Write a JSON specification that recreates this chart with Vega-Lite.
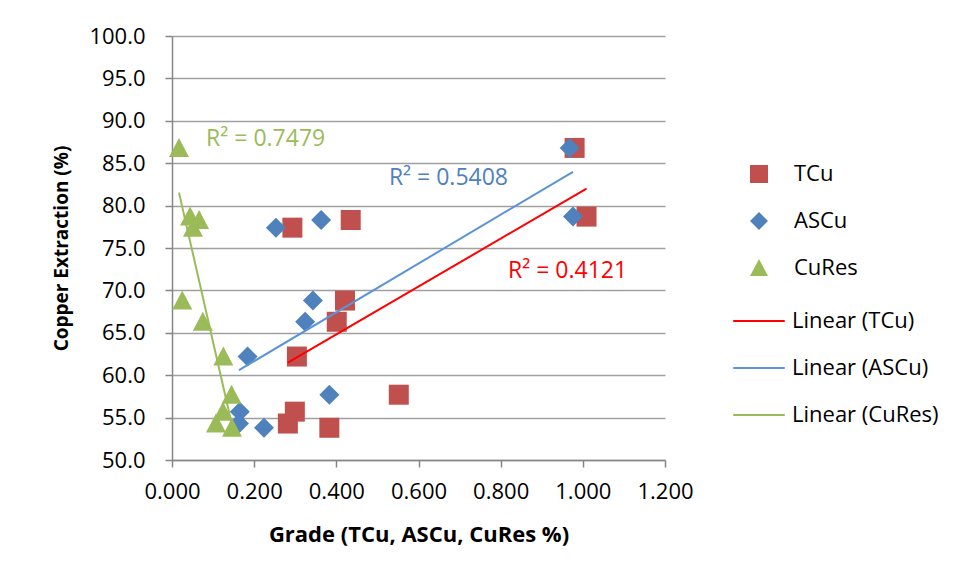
{
  "$schema": "https://vega.github.io/schema/vega-lite/v6.json",
  "width": 493,
  "height": 424,
  "autosize": {"type": "none"},
  "padding": {"left": 172, "top": 36, "right": 288, "bottom": 119},
  "background": "white",
  "config": {
    "font": "Open Sans",
    "view": {"stroke": null},
    "axis": {"labelColor": "#000000", "titleColor": "#000000", "labelFont": "Open Sans", "titleFont": "Open Sans"},
    "legend": {"labelFont": "Open Sans", "labelColor": "#000000", "padding": 0}
  },
  "datasets": {
    "points": [
      {"sample": 1, "series": "TCu", "grade": 0.980, "extraction": 86.8},
      {"sample": 2, "series": "TCu", "grade": 1.009, "extraction": 78.7},
      {"sample": 3, "series": "TCu", "grade": 0.435, "extraction": 78.3},
      {"sample": 4, "series": "TCu", "grade": 0.293, "extraction": 77.4},
      {"sample": 5, "series": "TCu", "grade": 0.421, "extraction": 68.8},
      {"sample": 6, "series": "TCu", "grade": 0.401, "extraction": 66.3},
      {"sample": 7, "series": "TCu", "grade": 0.304, "extraction": 62.2},
      {"sample": 8, "series": "TCu", "grade": 0.552, "extraction": 57.7},
      {"sample": 9, "series": "TCu", "grade": 0.299, "extraction": 55.7},
      {"sample": 10, "series": "TCu", "grade": 0.282, "extraction": 54.3},
      {"sample": 11, "series": "TCu", "grade": 0.383, "extraction": 53.8},
      {"sample": 1, "series": "ASCu", "grade": 0.968, "extraction": 86.8},
      {"sample": 2, "series": "ASCu", "grade": 0.976, "extraction": 78.7},
      {"sample": 3, "series": "ASCu", "grade": 0.363, "extraction": 78.3},
      {"sample": 4, "series": "ASCu", "grade": 0.253, "extraction": 77.4},
      {"sample": 5, "series": "ASCu", "grade": 0.343, "extraction": 68.8},
      {"sample": 6, "series": "ASCu", "grade": 0.324, "extraction": 66.3},
      {"sample": 7, "series": "ASCu", "grade": 0.184, "extraction": 62.2},
      {"sample": 8, "series": "ASCu", "grade": 0.383, "extraction": 57.7},
      {"sample": 9, "series": "ASCu", "grade": 0.165, "extraction": 55.7},
      {"sample": 10, "series": "ASCu", "grade": 0.163, "extraction": 54.3},
      {"sample": 11, "series": "ASCu", "grade": 0.224, "extraction": 53.8},
      {"sample": 1, "series": "CuRes", "grade": 0.017, "extraction": 86.8},
      {"sample": 2, "series": "CuRes", "grade": 0.044, "extraction": 78.7},
      {"sample": 3, "series": "CuRes", "grade": 0.066, "extraction": 78.3},
      {"sample": 4, "series": "CuRes", "grade": 0.051, "extraction": 77.4},
      {"sample": 5, "series": "CuRes", "grade": 0.025, "extraction": 68.8},
      {"sample": 6, "series": "CuRes", "grade": 0.075, "extraction": 66.3},
      {"sample": 7, "series": "CuRes", "grade": 0.125, "extraction": 62.2},
      {"sample": 8, "series": "CuRes", "grade": 0.145, "extraction": 57.7},
      {"sample": 9, "series": "CuRes", "grade": 0.124, "extraction": 55.7},
      {"sample": 10, "series": "CuRes", "grade": 0.107, "extraction": 54.3},
      {"sample": 11, "series": "CuRes", "grade": 0.146, "extraction": 53.8}
    ],
    "trends": [
      {"series": "TCu", "trend": "Linear (TCu)"},
      {"series": "ASCu", "trend": "Linear (ASCu)"},
      {"series": "CuRes", "trend": "Linear (CuRes)"}
    ],
    "labels": [
      {"series": "CuRes", "text": "R² = 0.7479", "grade": 0.083, "extraction": 87.8},
      {"series": "ASCu", "text": "R² = 0.5408", "grade": 0.528, "extraction": 83.25},
      {"series": "TCu", "text": "R² = 0.4121", "grade": 0.818, "extraction": 72.3}
    ]
  },
  "layer": [
    {
      "data": {"name": "points"},
      "mark": {"type": "point", "filled": true, "opacity": 1, "size": 400, "strokeWidth": 0},
      "encoding": {
        "x": {
          "field": "grade", "type": "quantitative",
          "scale": {"domain": [0, 1.2], "nice": false, "zero": false},
          "axis": {
            "title": "Grade (TCu, ASCu, CuRes %)",
            "values": [0, 0.2, 0.4, 0.6, 0.8, 1.0, 1.2],
            "format": ".3f",
            "grid": false,
            "domainColor": "#868686", "domainWidth": 1.5,
            "tickColor": "#868686", "tickWidth": 1.5, "tickSize": 7,
            "labelFontSize": 22, "labelPadding": 14, "labelFlush": false, "labelOverlap": false,
            "titleFontSize": 22, "titleFontWeight": "bold", "titlePadding": 22
          }
        },
        "y": {
          "field": "extraction", "type": "quantitative",
          "scale": {"domain": [50, 100], "nice": false, "zero": false},
          "axis": {
            "title": "Copper Extraction (%)",
            "values": [50, 55, 60, 65, 70, 75, 80, 85, 90, 95, 100],
            "format": ".1f",
            "grid": true, "gridColor": "#A0A0A0", "gridWidth": 1.5,
            "domainColor": "#868686", "domainWidth": 1.5,
            "tickColor": "#868686", "tickWidth": 1.5, "tickSize": 7,
            "labelFontSize": 22, "labelPadding": 20, "labelOverlap": false,
            "titleFontSize": 19, "titleFontWeight": "bold", "titlePadding": 17
          }
        },
        "color": {
          "field": "series", "type": "nominal",
          "scale": {"domain": ["TCu", "ASCu", "CuRes"], "range": ["#C0504D", "#4F81BD", "#9BBB59"]},
          "legend": {
            "title": null, "orient": "none", "direction": "vertical",
            "legendX": 576, "legendY": 127,
            "symbolSize": 324, "symbolStrokeWidth": 0,
            "labelFontSize": 22, "labelOffset": 24, "rowPadding": 25
          }
        },
        "shape": {
          "field": "series", "type": "nominal",
          "scale": {"domain": ["TCu", "ASCu", "CuRes"], "range": ["square", "diamond", "M0,-1L1,0.9L-1,0.9Z"]},
          "legend": {
            "title": null, "orient": "none", "direction": "vertical",
            "legendX": 576, "legendY": 127,
            "symbolSize": 324, "symbolStrokeWidth": 0,
            "labelFontSize": 22, "labelOffset": 24, "rowPadding": 25
          }
        }
      }
    },
    {
      "data": {"name": "points"},
      "transform": [
        {"regression": "extraction", "on": "grade", "groupby": ["series"], "method": "linear"},
        {"lookup": "series", "from": {"data": {"name": "trends"}, "key": "series", "fields": ["trend"]}}
      ],
      "mark": {"type": "line", "strokeWidth": 2},
      "encoding": {
        "x": {"field": "grade", "type": "quantitative"},
        "y": {"field": "extraction", "type": "quantitative"},
        "detail": {"field": "series"},
        "stroke": {
          "field": "trend", "type": "nominal",
          "scale": {"domain": ["Linear (TCu)", "Linear (ASCu)", "Linear (CuRes)"], "range": ["#FF0000", "#5B93D8", "#9BBB59"]},
          "legend": {
            "title": null, "orient": "none", "direction": "vertical",
            "legendX": 560, "legendY": 258,
            "symbolType": "stroke", "symbolSize": 2660, "symbolStrokeWidth": 2,
            "labelFontSize": 22, "labelOffset": 6, "rowPadding": 9
          }
        }
      }
    },
    {
      "data": {"name": "labels"},
      "mark": {"type": "text", "align": "left", "baseline": "middle", "fontSize": 23, "font": "Open Sans"},
      "encoding": {
        "x": {"field": "grade", "type": "quantitative"},
        "y": {"field": "extraction", "type": "quantitative"},
        "text": {"field": "text"},
        "fill": {
          "field": "series", "type": "nominal",
          "scale": {"domain": ["TCu", "ASCu", "CuRes"], "range": ["#FF0000", "#4F81BD", "#9BBB59"]},
          "legend": null
        }
      }
    }
  ]
}
